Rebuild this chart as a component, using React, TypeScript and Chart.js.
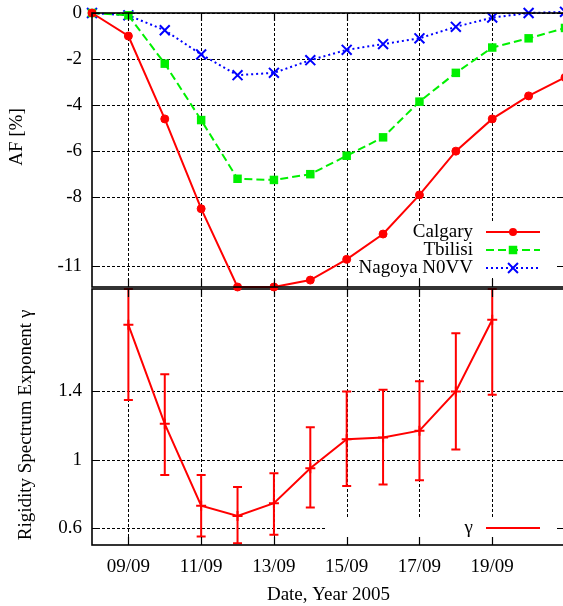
import { useEffect, useRef } from "react";
import { Chart, registerables } from "chart.js";

Chart.register(...registerables);

// Days of September 2005
const days = [8, 9, 10, 11, 12, 13, 14, 15, 16, 17, 18, 19, 20, 21];

// Amplitude of the Forbush decrease, %
const calgary = [0, -1.0, -4.6, -8.5, -11.9, -11.9, -11.6, -10.7, -9.6, -7.9, -6.0, -4.6, -3.6, -2.8];
const tbilisi = [0, -0.1, -2.2, -4.65, -7.2, -7.25, -7.0, -6.2, -5.4, -3.85, -2.6, -1.5, -1.1, -0.65];
const nagoya = [0, -0.1, -0.75, -1.8, -2.7, -2.6, -2.05, -1.6, -1.35, -1.1, -0.6, -0.2, 0, 0.05];

// Rigidity spectrum exponent with its error range
const gammaDays = [9, 10, 11, 12, 13, 14, 15, 16, 17, 18, 19];
const gamma = [1.79, 1.21, 0.73, 0.67, 0.745, 0.95, 1.12, 1.13, 1.17, 1.4, 1.82];
const gammaLow = [1.35, 0.91, 0.55, 0.51, 0.56, 0.72, 0.845, 0.855, 0.88, 1.06, 1.38];
const gammaHigh = [2.0, 1.5, 0.91, 0.84, 0.92, 1.19, 1.4, 1.41, 1.46, 1.74, 2.0];

// Axis ticks
const xTicks = [9, 11, 13, 15, 17, 19];
const xTickLabels = ["09/09", "11/09", "13/09", "15/09", "17/09", "19/09"];
const afTicks = [0, -2, -4, -6, -8, -11];
const gammaTicks = [0.6, 1, 1.4];

const FONT = '"Liberation Serif", "Times New Roman", serif';
const RED = "#ff0000";
const GREEN = "#00f000";
const BLUE = "#0000ff";

type Marker = "circle" | "rect" | "crossRot" | "none";
type KeyEntry = { label: string; color: string; dash: number[]; marker: Marker; r: number };

function drawMarker(ctx: CanvasRenderingContext2D, m: Marker, x: number, y: number, r: number, color: string) {
  ctx.save();
  ctx.fillStyle = color;
  ctx.strokeStyle = color;
  ctx.setLineDash([]);
  if (m === "circle") {
    ctx.beginPath();
    ctx.arc(x, y, r, 0, Math.PI * 2);
    ctx.fill();
  } else if (m === "rect") {
    const s = r * Math.SQRT1_2;
    ctx.fillRect(x - s, y - s, 2 * s, 2 * s);
  } else if (m === "crossRot") {
    const s = r * Math.SQRT1_2;
    ctx.lineWidth = 2;
    ctx.beginPath();
    ctx.moveTo(x - s, y - s);
    ctx.lineTo(x + s, y + s);
    ctx.moveTo(x - s, y + s);
    ctx.lineTo(x + s, y - s);
    ctx.stroke();
  }
  ctx.restore();
}

// Grid, key area, frame, inward ticks, key entries and y title in gnuplot style
const framePlugin = {
  id: "gnuFrame",
  beforeDatasetsDraw(chart: any, _a: any, opts: any) {
    const { ctx, chartArea: a, scales } = chart;
    const xs = scales.x;
    const ys = scales.y;
    ctx.save();
    ctx.strokeStyle = "#000";
    ctx.lineWidth = 1;
    ctx.setLineDash([3, 2]);
    ctx.beginPath();
    for (const v of opts.xGrid) {
      const px = Math.round(xs.getPixelForValue(v)) + 0.5;
      ctx.moveTo(px, a.top);
      ctx.lineTo(px, a.bottom);
    }
    for (const v of opts.yGrid) {
      const py = Math.round(ys.getPixelForValue(v)) + 0.5;
      ctx.moveTo(a.left, py);
      ctx.lineTo(a.right, py);
    }
    ctx.stroke();
    ctx.setLineDash([]);
    // opaque key area over the grid
    const k = opts.keyBox;
    ctx.fillStyle = "#fff";
    ctx.fillRect(a.right - k.w, a.bottom - k.top, k.w, k.h);
    ctx.restore();
  },
  afterDatasetsDraw(chart: any, _a: any, opts: any) {
    const { ctx, chartArea: a, scales } = chart;
    const xs = scales.x;
    const ys = scales.y;
    ctx.save();

    // error bars
    if (opts.errors) {
      const e = opts.errors;
      ctx.strokeStyle = RED;
      ctx.lineWidth = 2;
      ctx.beginPath();
      e.x.forEach((xv: number, i: number) => {
        const px = xs.getPixelForValue(xv);
        const lo = ys.getPixelForValue(e.lo[i]);
        const hi = ys.getPixelForValue(e.hi[i]);
        ctx.moveTo(px, lo);
        ctx.lineTo(px, hi);
        ctx.moveTo(px - 4.5, lo);
        ctx.lineTo(px + 4.5, lo);
        ctx.moveTo(px - 4.5, hi);
        ctx.lineTo(px + 4.5, hi);
      });
      ctx.stroke();
    }

    // frame
    ctx.strokeStyle = "#000";
    ctx.lineWidth = 1.6;
    ctx.strokeRect(a.left, a.top, a.right - a.left, a.bottom - a.top);

    // inward tick marks
    ctx.lineWidth = 1.2;
    ctx.beginPath();
    for (const v of opts.yGrid) {
      const py = Math.round(ys.getPixelForValue(v)) + 0.5;
      ctx.moveTo(a.left, py);
      ctx.lineTo(a.left + 8, py);
      ctx.moveTo(a.right, py);
      ctx.lineTo(a.right - 8, py);
    }
    for (const v of opts.xGrid) {
      const px = Math.round(xs.getPixelForValue(v)) + 0.5;
      ctx.moveTo(px, a.top);
      ctx.lineTo(px, a.top + 8);
      ctx.moveTo(px, a.bottom);
      ctx.lineTo(px, a.bottom - 8);
    }
    ctx.stroke();

    // key entries
    ctx.font = `19px ${FONT}`;
    ctx.textAlign = "right";
    ctx.textBaseline = "middle";
    (opts.key as KeyEntry[]).forEach((k, i) => {
      const y = a.bottom - opts.keyOffset + i * 18;
      ctx.fillStyle = "#000";
      ctx.fillText(k.label, a.right - 92, y);
      ctx.strokeStyle = k.color;
      ctx.lineWidth = 2;
      ctx.setLineDash(k.dash);
      ctx.beginPath();
      ctx.moveTo(a.right - 79, y);
      ctx.lineTo(a.right - 25, y);
      ctx.stroke();
      ctx.setLineDash([]);
      drawMarker(ctx, k.marker, a.right - 52, y, k.r, k.color);
    });

    // y axis title
    const t = opts.yTitle;
    ctx.translate(t.x, t.y - opts.canvasTop);
    ctx.rotate(-Math.PI / 2);
    ctx.textAlign = "center";
    ctx.fillStyle = "#000";
    ctx.fillText(t.text, 0, 0);
    ctx.restore();
  },
};

// y axis keeps a fixed width and asks for no extra room above or below
const fixY = (s: any) => {
  s.width = 92;
  s.paddingTop = 0;
  s.paddingBottom = 0;
};
const fixX = (h: number) => (s: any) => {
  s.height = h;
  s.paddingLeft = 0;
  s.paddingRight = 0;
};

const BOT_TOP = 282;

export default function App() {
  const topRef = useRef<HTMLCanvasElement>(null);
  const botRef = useRef<HTMLCanvasElement>(null);

  useEffect(() => {
    Chart.defaults.font.family = FONT;
    Chart.defaults.font.size = 19;
    Chart.defaults.color = "#000";

    const pts = (xs: number[], ys: number[]) => xs.map((x, i) => ({ x, y: ys[i] }));

    const top = new Chart(topRef.current!, {
      type: "line",
      data: {
        datasets: [
          {
            label: "Calgary",
            data: pts(days, calgary),
            borderColor: RED,
            backgroundColor: RED,
            borderWidth: 2,
            pointStyle: "circle",
            pointRadius: 4,
            pointBorderWidth: 1,
            clip: false,
          },
          {
            label: "Tbilisi",
            data: pts(days, tbilisi),
            borderColor: GREEN,
            backgroundColor: GREEN,
            borderWidth: 2,
            borderDash: [8, 4],
            pointStyle: "rect",
            pointRadius: 6,
            pointBorderWidth: 0,
            clip: false,
          },
          {
            label: "Nagoya N0VV",
            data: pts(days, nagoya),
            borderColor: BLUE,
            backgroundColor: BLUE,
            borderWidth: 2,
            borderDash: [2, 3],
            pointStyle: "crossRot",
            pointRadius: 7,
            pointBorderWidth: 2,
            clip: false,
          },
        ],
      },
      options: {
        responsive: false,
        animation: false,
        layout: { padding: { top: 13, right: 15, bottom: 0, left: 0 } },
        scales: {
          x: {
            type: "linear",
            min: 8,
            max: 21,
            ticks: { display: false },
            grid: { display: false, drawTicks: false },
            border: { display: false },
            afterFit: fixX(13),
          },
          y: {
            type: "linear",
            min: -11.9,
            max: 0,
            afterBuildTicks: (s: any) => {
              s.ticks = afTicks.map((v) => ({ value: v }));
            },
            ticks: { padding: 10, callback: (v: any) => String(v) },
            grid: { display: false, drawTicks: false },
            border: { display: false },
            afterFit: fixY,
          },
        },
        plugins: {
          legend: { display: false },
          tooltip: { enabled: false },
          gnuFrame: {
            xGrid: xTicks,
            yGrid: afTicks,
            keyBox: { w: 207, top: 66, h: 56 },
            keyOffset: 55,
            key: [
              { label: "Calgary", color: RED, dash: [], marker: "circle", r: 4 },
              { label: "Tbilisi", color: GREEN, dash: [8, 4], marker: "rect", r: 6 },
              { label: "Nagoya N0VV", color: BLUE, dash: [2, 3], marker: "crossRot", r: 7 },
            ],
            yTitle: { text: "AF [%]", x: 17, y: 137 },
            canvasTop: 0,
          },
        } as any,
      },
      plugins: [framePlugin],
    });

    const bot = new Chart(botRef.current!, {
      type: "line",
      data: {
        datasets: [
          {
            label: "γ",
            data: pts(gammaDays, gamma),
            borderColor: RED,
            backgroundColor: RED,
            borderWidth: 2,
            pointStyle: "cross",
            pointRadius: 5,
            pointBorderWidth: 2,
            clip: false,
          },
        ],
      },
      options: {
        responsive: false,
        animation: false,
        layout: { padding: { top: 1, right: 15, bottom: 0, left: 0 } },
        scales: {
          x: {
            type: "linear",
            min: 8,
            max: 21,
            afterBuildTicks: (s: any) => {
              s.ticks = xTicks.map((v) => ({ value: v }));
            },
            ticks: {
              padding: 11,
              maxRotation: 0,
              autoSkip: false,
              callback: (v: any) => xTickLabels[xTicks.indexOf(Number(v))] ?? "",
            },
            title: { display: true, text: "Date, Year 2005", padding: { top: 0, bottom: 0 } },
            grid: { display: false, drawTicks: false },
            border: { display: false },
            afterFit: fixX(61),
          },
          y: {
            type: "linear",
            min: 0.5,
            max: 2.0,
            afterBuildTicks: (s: any) => {
              s.ticks = gammaTicks.map((v) => ({ value: v }));
            },
            ticks: { padding: 10, callback: (v: any) => String(v) },
            grid: { display: false, drawTicks: false },
            border: { display: false },
            afterFit: fixY,
          },
        },
        plugins: {
          legend: { display: false },
          tooltip: { enabled: false },
          gnuFrame: {
            xGrid: xTicks,
            yGrid: gammaTicks,
            keyBox: { w: 240, top: 27, h: 27 },
            keyOffset: 17,
            key: [{ label: "γ", color: RED, dash: [], marker: "none", r: 0 }],
            errors: { x: gammaDays, lo: gammaLow, hi: gammaHigh },
            yTitle: { text: "Rigidity Spectrum Exponent γ", x: 26, y: 425 },
            canvasTop: BOT_TOP,
          },
        } as any,
      },
      plugins: [framePlugin],
    });

    return () => {
      top.destroy();
      bot.destroy();
    };
  }, []);

  return (
    <div
      style={{
        position: "fixed",
        left: 0,
        top: 0,
        width: 563,
        height: 606,
        overflow: "hidden",
        background: "#fff",
      }}
    >
      <canvas
        ref={botRef}
        width={580}
        height={606 - BOT_TOP}
        style={{ position: "absolute", left: 0, top: BOT_TOP }}
      />
      <canvas ref={topRef} width={580} height={300} style={{ position: "absolute", left: 0, top: 0, zIndex: 1 }} />
    </div>
  );
}
